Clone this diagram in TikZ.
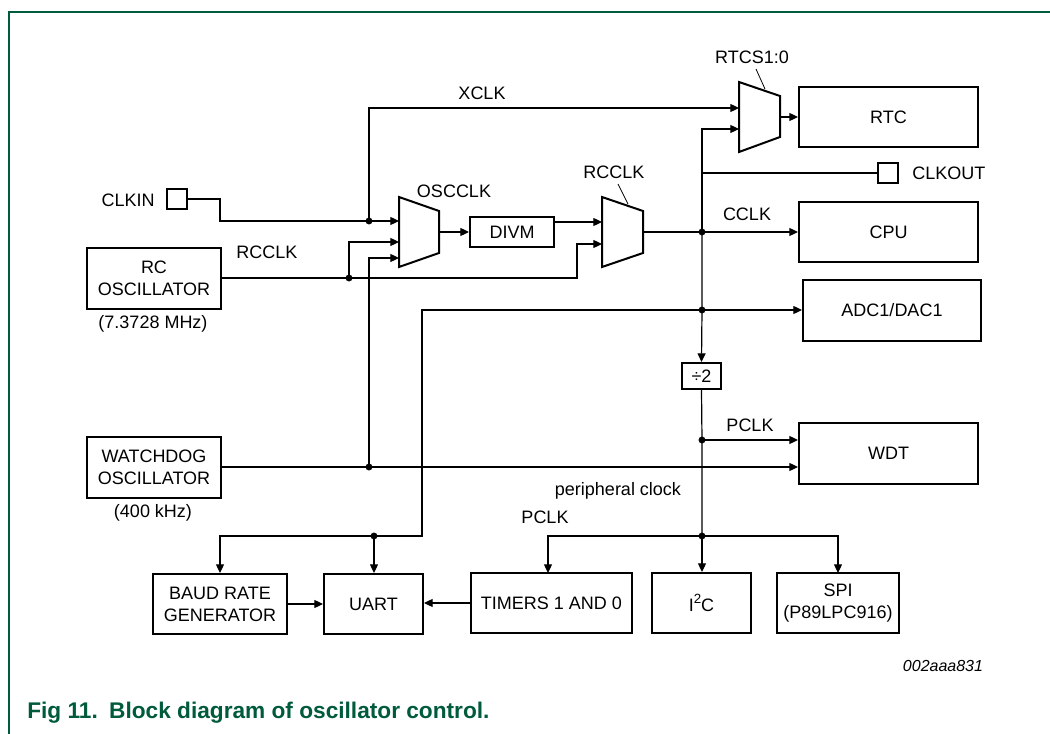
\documentclass[tikz,border=0pt]{standalone}
\usepackage{fontspec}
\setmainfont{Liberation Sans}
\usetikzlibrary{arrows.meta}
\definecolor{figgreen}{HTML}{005A3C}
\newcommand{\dfont}{\fontsize{13.5}{16.5}\selectfont}
\begin{document}
\begin{tikzpicture}[x=0.75pt,y=-0.75pt,
  box/.style={draw, line width=1.5pt, inner sep=0pt, align=center, font=\dfont},
  bx/.style n args={2}{minimum width=#1*0.75pt, minimum height=#2*0.75pt},
  wire/.style={line width=0.9pt},
  ar/.style={wire, -{Triangle[length=6.5pt,width=6pt]}},
  dot/.style={circle, fill, inner sep=0pt, minimum size=5.2pt},
  lbl/.style={inner sep=0pt, font=\dfont},
  muxs/.style={draw, line width=1.5pt, line join=miter},
  leader/.style={line width=0.6pt}]
\useasboundingbox (0,0) rectangle (1050,734);
% frame
\draw[figgreen, line width=0.8pt] (9,734) -- (9,12) -- (1050,12);
% boxes
\node[box, bx={134}{61}] (rc) at (154,278.5) {RC\\OSCILLATOR};
\node[box, bx={134}{61}] (wd) at (154,467.5) {WATCHDOG\\OSCILLATOR};
\node[box, bx={84}{30}] (divm) at (512,232) {DIVM};
\node[box, bx={179}{60}] (rtc) at (888.5,117) {RTC};
\node[box, bx={179}{60}] (cpu) at (888.5,232) {CPU};
\node[box, bx={178}{61}] (adc) at (892,310.5) {ADC1/DAC1};
\node[box, bx={179}{61}] (wdt) at (888.5,453.5) {WDT};
\node[box, bx={39}{26}] (div2) at (701.5,376) {÷2};
\node[box, bx={134}{60}] (baud) at (220,604) {BAUD RATE\\GENERATOR};
\node[box, bx={99}{60}] (uart) at (373.5,604) {UART};
\node[box, bx={161}{60}] (tim) at (551.5,603) {TIMERS 1 AND 0};
\node[box, bx={99}{60}] (iic) at (701.5,603) {I\raisebox{0.42em}{\fontsize{10}{10}\selectfont 2}C};
\node[box, bx={122}{60}] (spi) at (838,603) {SPI\\(P89LPC916)};
\node[box, bx={20}{20}] (clkin) at (177,199) {};
\node[box, bx={20}{20}] (clkout) at (888,173) {};
% labels
\node[lbl, anchor=east] (lclkin) at (155,200) {CLKIN};
\node[lbl] (lrcclk1) at (267,252) {RCCLK};
\node[lbl] (lxclk) at (482,93) {XCLK};
\node[lbl] (losc) at (454,191) {OSCCLK};
\node[lbl] (lrcclk2) at (614,172) {RCCLK};
\node[lbl] (lrtcs) at (752,57) {RTCS1:0};
\node[lbl, anchor=west] (lclkout) at (912,173) {CLKOUT};
\node[lbl] (lcclk) at (747,214) {CCLK};
\node[lbl] (lpclk1) at (750,425) {PCLK};
\node[lbl] (lperi) at (618,491) {peripheral clock};
\node[lbl] (lpclk2) at (545,517) {PCLK};
\node[lbl] (lf1) at (153,324) {(7.3728 MHz)};
\node[lbl] (lf2) at (153,513) {(400 kHz)};
\node[inner sep=0pt, font=\fontsize{12}{14}\selectfont\itshape] (fid) at (943,666) {002aaa831};
\node[anchor=base west, inner sep=0pt, text=figgreen, font=\fontsize{17}{20}\selectfont\bfseries] (cap) at (27,718) {Fig 11.\hspace{0.5em}Block diagram of oscillator control.};
% multiplexers
\draw[muxs] (399,197) -- (439,211) -- (439,253) -- (399,267) -- cycle;
\draw[muxs] (602,197) -- (643,211) -- (643,253) -- (602,267) -- cycle;
\draw[muxs] (739,82) -- (780,96) -- (780,137) -- (739,152) -- cycle;
\coordinate (om1) at (399,221); \coordinate (om2) at (399,242);
\coordinate (om3) at (399,258); \coordinate (omo) at (439,232);
\coordinate (rm1) at (602,222); \coordinate (rm2) at (602,244);
\coordinate (rmo) at (643,232);
\coordinate (tm1) at (739,108); \coordinate (tm2) at (739,129);
\coordinate (tmo) at (780,117);
\coordinate (tc) at (702,129); \coordinate (ck) at (702,173);
\coordinate (tin) at (548,573); \coordinate (sin) at (838,573);
% leaders
\draw[leader] (618,184) -- (628,204);
\draw[leader] (756,69) -- (765,89);
% dots
\node[dot] (d1) at (369,221) {};
\node[dot] (d2) at (349,278) {};
\node[dot] (d3) at (369,467) {};
\node[dot] (d4) at (702,232) {};
\node[dot] (d5) at (702,310) {};
\node[dot] (d6) at (702,440) {};
\node[dot] (d7) at (702,536) {};
\node[dot] (d8) at (374,536) {};
% wires
\draw[wire] (clkin.east) -- (220,199) |- (d1.center);
\draw[ar] (d1.center) -- (om1);
\draw[ar] (d1.center) |- (tm1);
\draw[wire] (rc.east |- d2) -- (d2.center);
\draw[ar] (d2.center) -- (577,278) |- (rm2);
\draw[ar] (d2.center) |- (om2);
\draw[ar] (wd.east |- d3) -- (d3.center) -- (wdt.west |- d3);
\draw[ar] (d3.center) |- (om3);
\draw[ar] (omo) -- (divm.west |- omo);
\draw[ar] (divm.east |- rm1) -- (rm1);
\draw[ar] (rmo) -- (d4.center) -- (cpu.west |- d4);
\draw[ar] (tmo) -- (rtc.west |- tmo);
\draw[ar] (d4.center) -- (tc) -- (tm2);
\draw[wire] (ck) -- (clkout.west);
\draw[ar] (d4.center) -- (d5.center) -- (div2.north);
\draw[ar] (d5.center) -- (adc.west |- d5);
\draw[ar] (d5.center) -- (422,310) -- (422,536) -- (d8.center) -| (baud.north);
\draw[ar] (d8.center) -- (d8 |- uart.north);
\draw[wire] (div2.south) -- (d6.center) -- (d7.center);
\draw[ar] (d6.center) -- (wdt.west |- d6);
\draw[ar] (d7.center) -- (d7 |- iic.north);
\draw[ar] (d7.center) -| (tin);
\draw[ar] (d7.center) -| (sin);
\draw[ar] (baud.east) -- (uart.west |- baud.east);
\draw[ar] (tim.west) -- (uart.east |- tim.west);
\end{tikzpicture}
\end{document}
